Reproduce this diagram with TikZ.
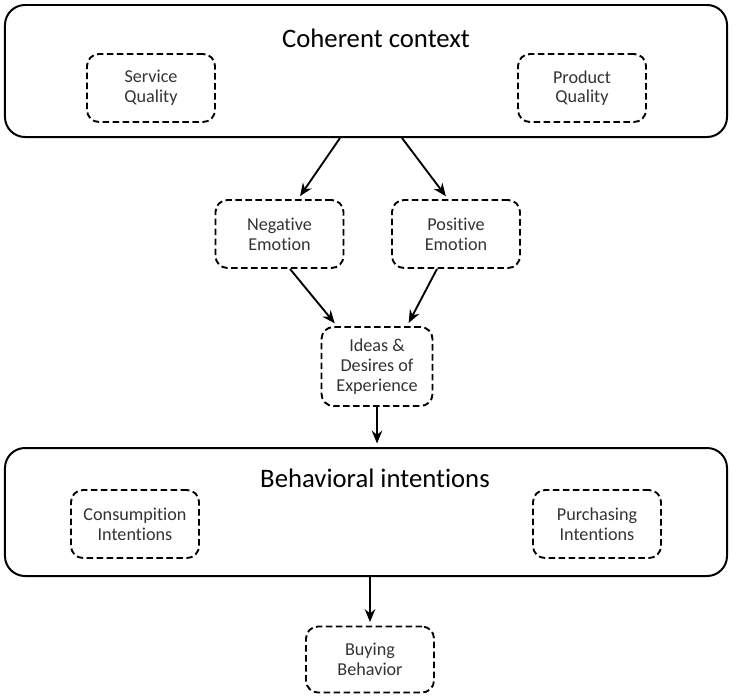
\documentclass[tikz,border=0pt]{standalone}
\usepackage{fontspec}
\setmainfont{Carlito}[Ligatures=NoCommon]
\usetikzlibrary{arrows.meta,positioning,calc}

\begin{document}
\begin{tikzpicture}[x=0.03cm,y=-0.03cm,
  outer/.style={draw,line width=1.7pt,rounded corners=0.6cm,minimum width=21.66cm},
  dbx/.style={draw,line width=1.6pt,dash pattern=on 5.5pt off 3pt,rounded corners=0.36cm,
    minimum width=3.84cm,minimum height=2.04cm,align=center,
    font=\fontsize{15.5}{16.8}\selectfont,text=black!80},
  ttl/.style={font=\fontsize{22.8}{26}\selectfont},
  arr/.style={-{Stealth[length=11pt,width=9pt]},line width=1.6pt,shorten >=3pt}]
  \useasboundingbox (0,0) rectangle (732,697);
  % upper block
  \node[outer,minimum height=3.96cm] (ctx) at (366,71) {};
  \node[ttl] (ctxtitle) at (376,38) {Coherent context};
  \node[dbx] (service) at (151,88) {Service\\Quality};
  \node[dbx] (product) at (582,88) {Product\\Quality};
  % emotions
  \node[dbx] (neg) at (279.5,234) {Negative\\Emotion};
  \node[dbx] (pos) at (456,234) {Positive\\Emotion};
  \node[dbx,minimum width=3.33cm,minimum height=2.37cm] (ideas) at (377,366.5) {Ideas \&\\Desires of\\Experience};
  % lower block
  \node[outer,minimum height=3.84cm] (beh) at (366,512) {};
  \node[ttl] (behtitle) at (375,478) {Behavioral intentions};
  \node[dbx] (cons) at (135,524) {Consumpition\\Intentions};
  \node[dbx] (purch) at (597,524) {Purchasing\\Intentions};
  \node[dbx,minimum height=1.98cm] (buy) at (370,659.5) {Buying\\Behavior};
  \draw[arr] ($(ctx.south)+(-26,0)$) -- ($(neg.north)+(18.5,0)$);
  \draw[arr] ($(ctx.south)+(36,0)$) -- ($(pos.north)+(-8,0)$);
  \draw[arr] ($(neg.south)+(10.5,0)$) -- ($(ideas.north)+(-40,0)$);
  \draw[arr] ($(pos.south)+(-19,0)$) -- ($(ideas.north)+(30,0)$);
  \draw[arr] (ideas.south) -- (ideas.south |- beh.north);
  \draw[arr] (buy.north |- beh.south) -- (buy.north);
\end{tikzpicture}
\end{document}
